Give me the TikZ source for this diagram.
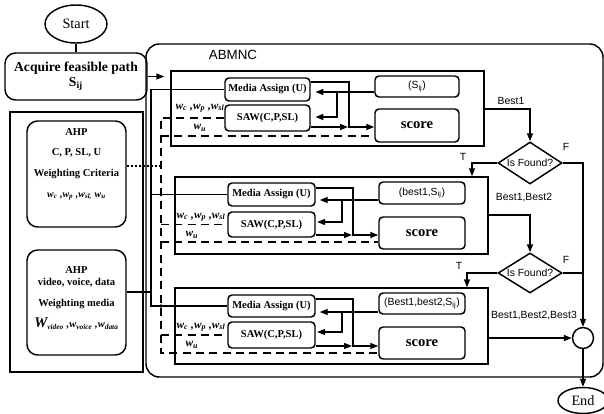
\documentclass[tikz,border=0pt]{standalone}
\usepackage{fontspec}
\setmainfont{Liberation Serif}
\setsansfont{Liberation Sans}
\usetikzlibrary{arrows.meta,shapes.geometric,calc}
\newcommand{\wv}[1]{\textit{w}\textsubscript{\textit{#1}}}
\begin{document}
\begin{tikzpicture}[x=0.75pt,y=-0.75pt,
 line width=1.1pt,
 sz/.style 2 args={minimum width=#1*0.75pt, minimum height=#2*0.75pt},
 rbox/.style={draw, rounded corners=3pt, inner sep=0pt},
 sbox/.style={draw, inner sep=0pt},
 arr/.style={-{Triangle[length=6pt,width=4.5pt]}},
 dsh/.style={dash pattern=on 6pt off 4pt},
 sf/.style={font=\sffamily\fontsize{7.8}{9}\selectfont},
 bf/.style={font=\bfseries\fontsize{7.9}{9}\selectfont},
 sc/.style={font=\bfseries\fontsize{11}{12}\selectfont},
 wl/.style={font=\bfseries\itshape\fontsize{8.5}{9}\selectfont},
 ]
\useasboundingbox (0,0) rectangle (604,414);

% top left
\node[draw, ellipse, sz={62}{38}, inner sep=0pt, font=\fontsize{10.7}{12}\selectfont] (start) at (76,24) {Start};
\node[rbox, rounded corners=8pt, sz={142}{47}, align=center, font=\bfseries\fontsize{10.2}{11.5}\selectfont] (acq) at (76,76.5) {Acquire feasible path\\S\textsubscript{ij}};

% ABMNC container
\node[draw, rounded corners=10pt, sz={457}{333}] (abm) at (374.5,210.5) {};
\node[font=\sffamily\fontsize{10}{12}\selectfont] (abmt) at (233,55) {ABMNC};

% left column
\node[sbox, sz={133}{260}] (left) at (76.5,242) {};
\node[rbox, rounded corners=8pt, sz={99}{106}] (ahp1) at (76.5,174) {};
\node[align=center, bf] (ahp1t) at (76.5,164) {AHP\\[6.5pt] C, P, SL, U\\[6.5pt] Weighting Criteria\\[6.5pt] {\itshape\fontsize{7.5}{9}\selectfont\wv{c} ,\wv{p} ,\wv{sl,} \wv{u}}};
\node[rbox, rounded corners=8pt, sz={99}{105}] (ahp2) at (76.5,302.5) {};
\node[align=center, bf] (ahp2t) at (76.5,298) {AHP\\ video, voice, data\\[6.5pt] Weighting media\\[7pt] {\itshape{\fontsize{11}{11}\selectfont\textit{W}}\textsubscript{\textit{video}} ,\textit{w}\textsubscript{\textit{voice}} ,\textit{w}\textsubscript{\textit{data}}}};

% stage boxes
\node[sbox, sz={313}{75}] (st1) at (327.5,108.5) {};
\node[sbox, sz={313}{77}] (st2) at (331.5,215.5) {};
\node[sbox, sz={313}{76}] (st3) at (331.5,326) {};

% stage 1
\node[rbox, sz={85}{23}, bf] (ma1) at (267.5,89.5) {Media Assign (U)};
\node[rbox, sz={85}{26}, bf] (saw1) at (267.5,118) {SAW(C,P,SL)};
\node[rbox, sz={84}{21}, sf] (s1) at (417,86.5) {(S\textsubscript{ij})};
\node[rbox, sz={84}{33}, sc] (sc1) at (417,125.5) {score};
% stage 2
\node[rbox, sz={87}{23}, bf] (ma2) at (271.5,194.5) {Media Assign (U)};
\node[rbox, sz={87}{25}, bf] (saw2) at (271.5,224.5) {SAW(C,P,SL)};
\node[rbox, sz={86}{22}, sf] (s2) at (422,193) {(best1,S\textsubscript{ij})};
\node[rbox, sz={86}{32}, sc] (sc2) at (422,233) {score};
% stage 3
\node[rbox, sz={87}{22}, bf] (ma3) at (271.5,306) {Media Assign (U)};
\node[rbox, sz={87}{26}, bf] (saw3) at (271.5,335) {SAW(C,P,SL)};
\node[rbox, sz={86}{21}, sf] (s3) at (422,303.5) {(Best1,best2,S\textsubscript{ij})};
\node[rbox, sz={86}{32}, sc] (sc3) at (422,343) {score};

% weight labels
\node[wl] (wl1) at (200,108) {\wv{c} ,\wv{p} ,\wv{sl}};
\node[wl] (wu1) at (200,128) {\wv{u}};
\node[wl] (wl2) at (201,217) {\wv{c} ,\wv{p} ,\wv{sl}};
\node[wl] (wu2) at (192,235) {\wv{u}};
\node[wl] (wl3) at (201,327) {\wv{c} ,\wv{p} ,\wv{sl}};
\node[wl] (wu3) at (192,345) {\wv{u}};

% right side
\node[draw, diamond, sz={64}{42}, inner sep=0pt, sf] (d1) at (530,163) {\makebox[0pt]{Is Found?}};
\node[draw, diamond, sz={64}{40}, inner sep=0pt, sf] (d2) at (530,273) {\makebox[0pt]{Is Found?}};
\node[draw, circle, minimum size=21*0.75pt, inner sep=0pt] (m) at (583,338) {};
\node[draw, ellipse, sz={50}{26}, inner sep=0pt, font=\fontsize{10.7}{12}\selectfont] (end) at (583,400.5) {End};

\node[sf] (b1) at (511,101) {Best1};
\node[sf] (b2) at (524,198) {Best1,Best2};
\node[sf] (b3) at (534,316) {Best1,Best2,Best3};
\node[sf] (t1) at (463,157) {T};
\node[sf] (f1) at (566,147) {F};
\node[sf] (t2) at (459,266) {T};
\node[sf] (f2) at (566,260) {F};

% top-left connectors
\draw (start) -- (acq);
\draw[arr, shorten >=4.5pt] (acq.east) -- (st1.west |- acq.east);

% left solid connectors to media assign
\draw (ma1.west) -- (151,89.5) -- (151,306) -- (ma3.west);
\draw (151,194.5) -- (ma2.west);
\draw (ahp2.east |- 0,292) -- (151,292);
\draw[dash pattern=on 1.5pt off 1.5pt] (ahp1.east |- 0,166) -- (161,166);

% dashed weight lines
\draw[dsh] (saw1.west) -| (161,353) -- (sc3.west |- 0,353);
\draw[dsh] (161,136) -- (sc1.west |- 0,136);
\draw[dsh] (161,224.5) -- (saw2.west);
\draw[dsh] (161,242) -- (sc2.west |- 0,242);
\draw[dsh] (161,335) -- (saw3.west);
\fill (161,194.5) circle (1.4pt);
\fill (161,306) circle (1.4pt);

% stage 1 internal
\draw[arr, shorten >=3.5pt] (s1.west |- 0,92) -- (ma1.east |- 0,92);
\draw[arr, shorten >=3.5pt] (337,92) |- (saw1.east |- 0,117);
\draw[arr] (ma1.east |- 0,82) -| (349,127) -- (sc1.west |- 0,127);
\draw[arr] (saw1.east |- 0,127) -- (348,127);
% stage 2 internal
\draw[arr, shorten >=3pt] (s2.west |- 0,200) -- (ma2.east |- 0,200);
\draw[arr, shorten >=1pt] (342,200) |- (saw2.east |- 0,222);
\draw[arr] (ma2.east |- 0,188) -| (353,235) -- (sc2.west |- 0,235);
\draw[arr] (saw2.east |- 0,235) -- (352,235);
% stage 3 internal
\draw[arr, shorten >=3pt] (s3.west |- 0,312) -- (ma3.east |- 0,312);
\draw[arr, shorten >=1pt] (342,312) |- (saw3.east |- 0,332);
\draw[arr] (ma3.east |- 0,299) -| (353,346) -- (sc3.west |- 0,346);
\draw[arr] (saw3.east |- 0,346) -- (352,346);

% right connectors
\draw[arr] (st1.east |- 0,109) -| (d1.north);
\draw[arr] (st2.east |- 0,215) -| (d2.north);
\draw[arr] (d1.west) -| (472,0 |- st2.north);
\draw[arr] (d2.west) -| (467,0 |- st3.north);
\draw[arr] (d1.east) -| (m.north);
\draw (d2.east) -- (d2.east -| m.north);
\draw[arr] (st3.east |- m) -- (m.west);
\draw[arr] (m.south) -- (end.north);
\end{tikzpicture}
\end{document}
